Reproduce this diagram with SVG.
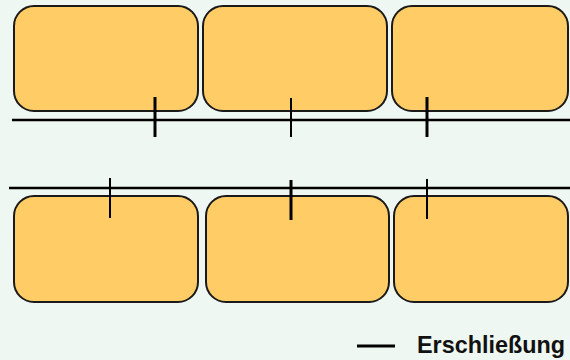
<svg xmlns="http://www.w3.org/2000/svg" width="570" height="360" viewBox="0 0 570 360">
<style>
.box{fill:#FFCC66;stroke:#1a1a1a;stroke-width:2}
.road{stroke:#000;stroke-width:2.5;fill:none}
.tick{stroke:#000;fill:none}
.t3{stroke-width:3}
.t2{stroke-width:2}
.lbl{font-family:"Liberation Sans",Arial,sans-serif;font-weight:bold;font-size:24px;fill:#111}
</style>
<rect width="570" height="360" fill="#EEF7F2"/>
<g id="top-1"><rect class="box" x="14" y="6" width="184" height="105" rx="20"/></g>
<g id="top-2"><rect class="box" x="203" y="6" width="184" height="105" rx="20"/></g>
<g id="top-3"><rect class="box" x="392" y="6" width="176" height="105" rx="20"/></g>
<g id="bottom-1"><rect class="box" x="14" y="196" width="184" height="106" rx="20"/></g>
<g id="bottom-2"><rect class="box" x="206" y="196" width="183" height="106" rx="20"/></g>
<g id="bottom-3"><rect class="box" x="394" y="196" width="174" height="106" rx="20"/></g>
<g id="connectors">
<line class="road" x1="12" y1="120" x2="570" y2="120"/>
<line class="road" x1="9" y1="188" x2="570" y2="188"/>
<line class="tick t3" x1="155" y1="97" x2="155" y2="137"/>
<line class="tick t2" x1="291" y1="98" x2="291" y2="137"/>
<line class="tick t3" x1="427" y1="97" x2="427" y2="137"/>
<line class="tick t2" x1="110" y1="178" x2="110" y2="218"/>
<line class="tick t3" x1="291" y1="180" x2="291" y2="220"/>
<line class="tick t2" x1="427" y1="179" x2="427" y2="219"/>
</g>
<g id="legend">
<line stroke="#000" stroke-width="3" x1="357" y1="346" x2="395" y2="346"/>
<text class="lbl" x="417" y="353" textLength="148" lengthAdjust="spacingAndGlyphs">Erschließung</text>
</g>
</svg>
